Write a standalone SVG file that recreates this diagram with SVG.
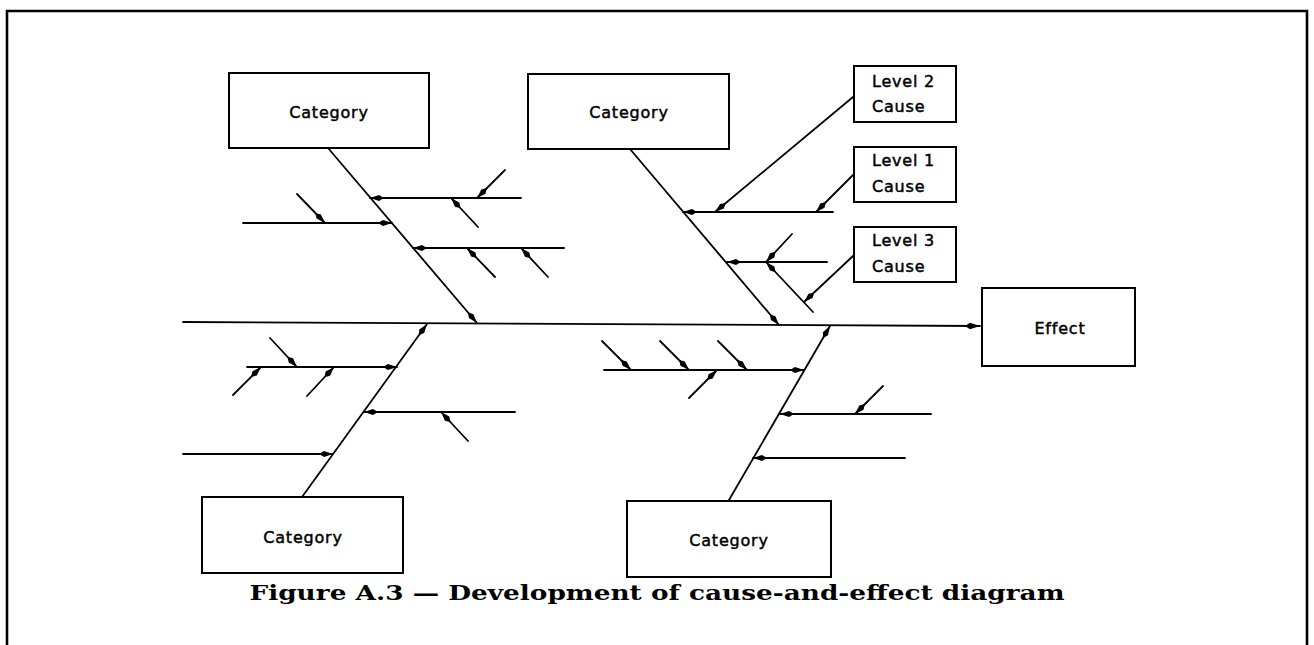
<svg xmlns="http://www.w3.org/2000/svg" width="1314" height="645" viewBox="0 0 1314 645">
<style>
.frame{fill:none;stroke:#000;stroke-width:2.6}
.box{fill:#fff;stroke:#000;stroke-width:2}
.ln{fill:none;stroke:#000;stroke-width:1.8;stroke-linecap:round}
.arr{marker-end:url(#ah)}
.lbl{font-family:"DejaVu Sans","Liberation Sans",sans-serif;font-size:16px;letter-spacing:0.8px;fill:#000;stroke:#000;stroke-width:0.45}
.c{text-anchor:middle}
.cap{font-family:"DejaVu Serif","Liberation Serif",serif;font-size:20px;font-weight:bold;fill:#000;text-anchor:middle}
</style>
<defs>
<marker id="ah" markerUnits="userSpaceOnUse" markerWidth="18" markerHeight="10" viewBox="0 -5 18 10" refX="14" refY="0" orient="auto">
<path d="M14,0 L5,-3 L0,0 L5,3 z" fill="#000"/>
</marker>
<marker id="ahBig" markerUnits="userSpaceOnUse" markerWidth="18" markerHeight="10" viewBox="0 -5 18 10" refX="15" refY="0" orient="auto">
<path d="M15,0 L5,-3.2 L0,0 L5,3.2 z" fill="#000"/>
</marker>
</defs>
<path class="frame" d="M7,650 V11 H1307 V650"/>

<g id="connectors">
<line class="ln" x1="183" y1="322" x2="980" y2="326" marker-end="url(#ahBig)"/>
<line class="ln arr" x1="328" y1="148" x2="477" y2="323"/>
<line class="ln arr" x1="521" y1="198" x2="370" y2="198"/>
<line class="ln arr" x1="243" y1="223" x2="392" y2="223"/>
<line class="ln arr" x1="564" y1="248" x2="413" y2="248"/>
<line class="ln arr" x1="505" y1="170" x2="477" y2="198"/>
<line class="ln arr" x1="478" y1="227" x2="451" y2="198"/>
<line class="ln arr" x1="297" y1="194" x2="325" y2="223"/>
<line class="ln arr" x1="495" y1="277" x2="467" y2="248"/>
<line class="ln arr" x1="548" y1="277" x2="521" y2="248"/>
<line class="ln arr" x1="630" y1="149" x2="779" y2="325"/>
<line class="ln arr" x1="833" y1="212" x2="683" y2="212"/>
<line class="ln arr" x1="853" y1="97" x2="715" y2="212"/>
<line class="ln arr" x1="853" y1="175" x2="816" y2="212"/>
<line class="ln arr" x1="827" y1="262" x2="727" y2="262"/>
<line class="ln arr" x1="792" y1="234" x2="766" y2="262"/>
<line class="ln arr" x1="813" y1="312" x2="766" y2="262"/>
<line class="ln arr" x1="853" y1="256" x2="804" y2="302"/>
<line class="ln arr" x1="302" y1="497" x2="427" y2="324"/>
<line class="ln arr" x1="247" y1="367" x2="397" y2="367"/>
<line class="ln arr" x1="515" y1="412" x2="364" y2="412"/>
<line class="ln arr" x1="183" y1="454" x2="333" y2="454"/>
<line class="ln arr" x1="270" y1="338" x2="297" y2="367"/>
<line class="ln arr" x1="233" y1="395" x2="261" y2="367"/>
<line class="ln arr" x1="307" y1="396" x2="334" y2="367"/>
<line class="ln arr" x1="468" y1="441" x2="441" y2="412"/>
<line class="ln arr" x1="729" y1="500" x2="830" y2="326"/>
<line class="ln arr" x1="604" y1="370" x2="804" y2="370"/>
<line class="ln arr" x1="602" y1="341" x2="631" y2="370"/>
<line class="ln arr" x1="660" y1="341" x2="689" y2="370"/>
<line class="ln arr" x1="718" y1="341" x2="747" y2="370"/>
<line class="ln arr" x1="689" y1="398" x2="717" y2="370"/>
<line class="ln arr" x1="931" y1="414" x2="780" y2="414"/>
<line class="ln arr" x1="883" y1="386" x2="855" y2="414"/>
<line class="ln arr" x1="905" y1="458" x2="753" y2="458"/>
</g>

<g id="cat-top-left"><rect class="box" x="229" y="73" width="200" height="75"/><text class="lbl c" x="329" y="118">Category</text></g>
<g id="cat-top-right"><rect class="box" x="528" y="74" width="201" height="75"/><text class="lbl c" x="629" y="118">Category</text></g>
<g id="level2"><rect class="box" x="854" y="66" width="102" height="56"/><text class="lbl" x="872" y="87">Level 2</text><text class="lbl" x="872" y="112">Cause</text></g>
<g id="level1"><rect class="box" x="854" y="147" width="102" height="55"/><text class="lbl" x="872" y="166">Level 1</text><text class="lbl" x="872" y="192">Cause</text></g>
<g id="level3"><rect class="box" x="854" y="227" width="102" height="55"/><text class="lbl" x="872" y="246">Level 3</text><text class="lbl" x="872" y="272">Cause</text></g>
<g id="effect"><rect class="box" x="982" y="288" width="153" height="78"/><text class="lbl c" x="1060" y="334">Effect</text></g>
<g id="cat-bottom-left"><rect class="box" x="202" y="497" width="201" height="76"/><text class="lbl c" x="303" y="543">Category</text></g>
<g id="cat-bottom-right"><rect class="box" x="627" y="501" width="204" height="76"/><text class="lbl c" x="729" y="546">Category</text></g>

<text class="cap" x="657" y="600" textLength="815" lengthAdjust="spacingAndGlyphs">Figure A.3 — Development of cause-and-effect diagram</text>
</svg>
